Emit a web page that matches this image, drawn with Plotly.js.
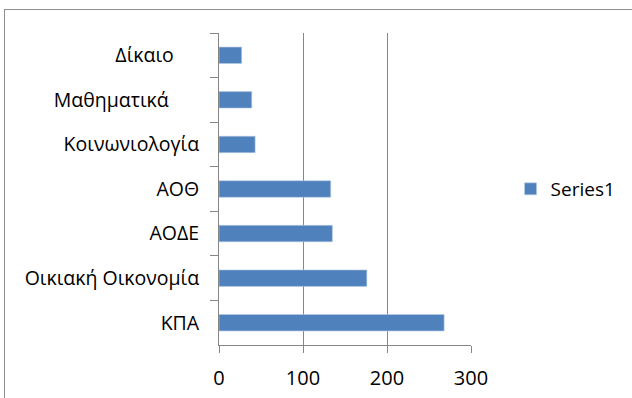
<!DOCTYPE html>
<html>
<head>
<meta charset="utf-8">
<script src="https://cdn.plot.ly/plotly-3.0.1.min.js"></script>
<style>
html,body{margin:0;padding:0;background:#fff;overflow:hidden;}
#wrap{position:relative;width:632px;height:398px;}
#chart{position:absolute;left:0;top:0;width:632px;height:398px;}
#frame{position:absolute;left:4px;top:9px;width:700px;height:500px;border:1px solid #8e8e8e;pointer-events:none;}
</style>
</head>
<body>
<div id="wrap"><div id="chart"></div><div id="frame"></div></div>
<script>
const categories = ["Δίκαιο\u00a0\u00a0\u00a0\u00a0\u00a0", "Μαθηματικά\u00a0\u00a0\u00a0\u00a0\u00a0\u00a0", "Κοινωνιολογία", "ΑΟΘ", "ΑΟΔΕ", "Οικιακή Οικονομία", "ΚΠΑ"];
const values = [27, 39, 43, 133, 135, 176, 268];
const seriesName = "Series1";
const xTicks = [0, 100, 200, 300];

const font = "Open Sans, Noto Sans, sans-serif";
const grid = "#868686";

Plotly.newPlot("chart", [{
  type: "bar",
  orientation: "h",
  y: categories,
  x: values,
  name: seriesName,
  marker: {color: "#4f81bd", line: {color: "#b8cce4", width: 0.6}},
  width: 0.37,
  showlegend: true,
  hoverinfo: "none"
}], {
  width: 632, height: 398,
  margin: {l: 219, r: 159, t: 33, b: 53, pad: 0},
  paper_bgcolor: "#ffffff",
  plot_bgcolor: "#ffffff",
  font: {family: font, size: 19, color: "#000"},
  xaxis: {
    range: [0, 300], tickvals: xTicks, ticktext: xTicks.map(String),
    showgrid: true, gridcolor: grid, gridwidth: 1,
    zeroline: false, showline: true, linecolor: grid, linewidth: 1,
    ticks: "outside", ticklen: 7, tickcolor: grid, tickwidth: 1,
    ticklabelstandoff: 8,
    tickfont: {family: font, size: 20, color: "#000"}
  },
  yaxis: {
    type: "category", autorange: "reversed",
    showgrid: false, zeroline: false, showline: true, linecolor: grid, linewidth: 1,
    ticks: "outside", tickson: "boundaries", ticklen: 8, tickcolor: grid, tickwidth: 1,
    ticklabelstandoff: 15,
    tickfont: {family: font, size: 19.5, color: "#000"}
  },
  legend: {
    x: 1.157, xanchor: "left", y: 0.5, yanchor: "middle",
    font: {family: font, size: 19, color: "#000"},
    bgcolor: "rgba(0,0,0,0)", itemwidth: 30
  },
  showlegend: true
}, {displayModeBar: false, staticPlot: true});
</script>
</body>
</html>
